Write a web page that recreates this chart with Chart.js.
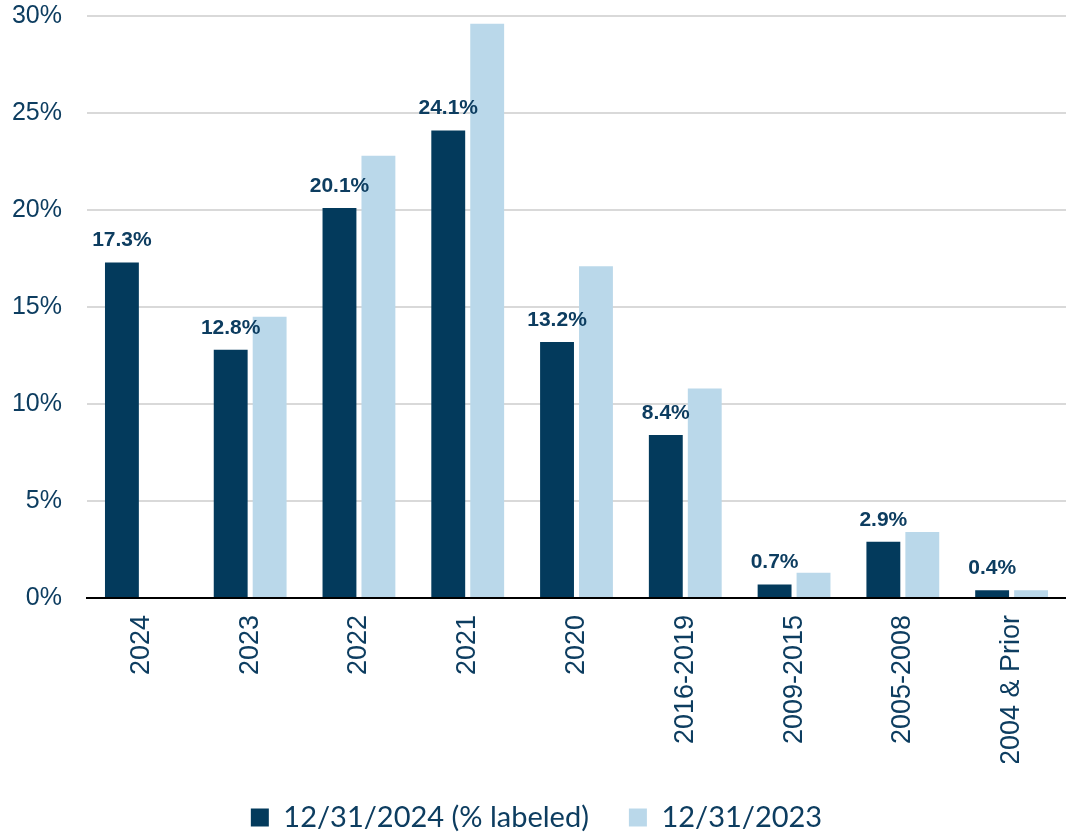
<!DOCTYPE html>
<html>
<head>
<meta charset="utf-8">
<script src="https://cdn.jsdelivr.net/npm/chart.js@4"></script>
<style>
  body { margin: 0; background: #fff; }
  #wrap { width: 1066px; height: 834px; }
</style>
</head>
<body>
<div id="wrap"><canvas id="chart" width="1066" height="834"></canvas></div>
<script>
// vintage buckets
const categories = ["2024", "2023", "2022", "2021", "2020", "2016-2019", "2009-2015", "2005-2008", "2004 & Prior"];
const seriesNames = ["12/31/2024 (% labeled)", "12/31/2023"];
const values2024 = [17.3, 12.8, 20.1, 24.1, 13.2, 8.4, 0.7, 2.9, 0.4];
const values2023 = [null, 14.5, 22.8, 29.6, 17.1, 10.8, 1.3, 3.4, 0.4];
const yTicks = [0, 5, 10, 15, 20, 25, 30];

const dark = "#033a5c";
const light = "#bad8ea";
const textColor = "#0d3d60";

// draws the % labels over the dark bars
const barLabels = {
  id: "barLabels",
  afterDatasetsDraw(chart) {
    const ctx = chart.ctx;
    const meta = chart.getDatasetMeta(0);
    ctx.save();
    ctx.font = "bold 21px 'Liberation Sans', Arial, sans-serif";
    ctx.fillStyle = textColor;
    ctx.textAlign = "center";
    ctx.textBaseline = "alphabetic";
    meta.data.forEach((bar, i) => {
      ctx.fillText(values2024[i].toFixed(1) + "%", bar.x, bar.y - 16);
    });
    ctx.restore();
  }
};

const ctx = document.getElementById("chart").getContext("2d");

new Chart(ctx, {
  type: "bar",
  data: {
    labels: categories,
    datasets: [
      {
        label: seriesNames[0],
        data: values2024,
        backgroundColor: dark,
        categoryPercentage: 0.716,
        barPercentage: 0.87
      },
      {
        label: seriesNames[1],
        data: values2023,
        backgroundColor: light,
        categoryPercentage: 0.716,
        barPercentage: 0.87
      }
    ]
  },
  options: {
    responsive: false,
    animation: false,
    layout: { padding: { top: 16, right: -7, left: 0, bottom: -8 } },
    plugins: {
      tooltip: { enabled: false },
      legend: {
        position: "bottom",
        labels: {
          boxWidth: 18,
          boxHeight: 18,
          padding: 40,
          color: textColor,
          font: { family: "Lato, 'Liberation Sans', sans-serif", size: 29 }
        }
      }
    },
    scales: {
      x: {
        afterFit(scale) {
          scale.height = 165;
          scale.paddingLeft = 0;
          scale.paddingRight = 0;
        },
        grid: { display: false, drawTicks: false },
        border: { display: true, color: "#000", width: 2 },
        ticks: {
          color: textColor,
          minRotation: 90,
          maxRotation: 90,
          padding: 17,
          font: { family: "'Liberation Sans', Arial, sans-serif", size: 27 }
        }
      },
      y: {
        min: 0,
        max: 30,
        afterBuildTicks(scale) {
          scale.ticks = yTicks.map(v => ({ value: v }));
        },
        afterFit(scale) {
          scale.width = 87;
          scale.paddingTop = 0;
          scale.paddingBottom = 0;
        },
        grid: { color: "#d9d9d9", lineWidth: 2, drawTicks: false },
        border: { display: false },
        ticks: {
          color: textColor,
          padding: 25,
          font: { family: "'Liberation Sans', Arial, sans-serif", size: 25 },
          callback: v => v + "%"
        }
      }
    }
  },
  plugins: [barLabels]
});
</script>
</body>
</html>
